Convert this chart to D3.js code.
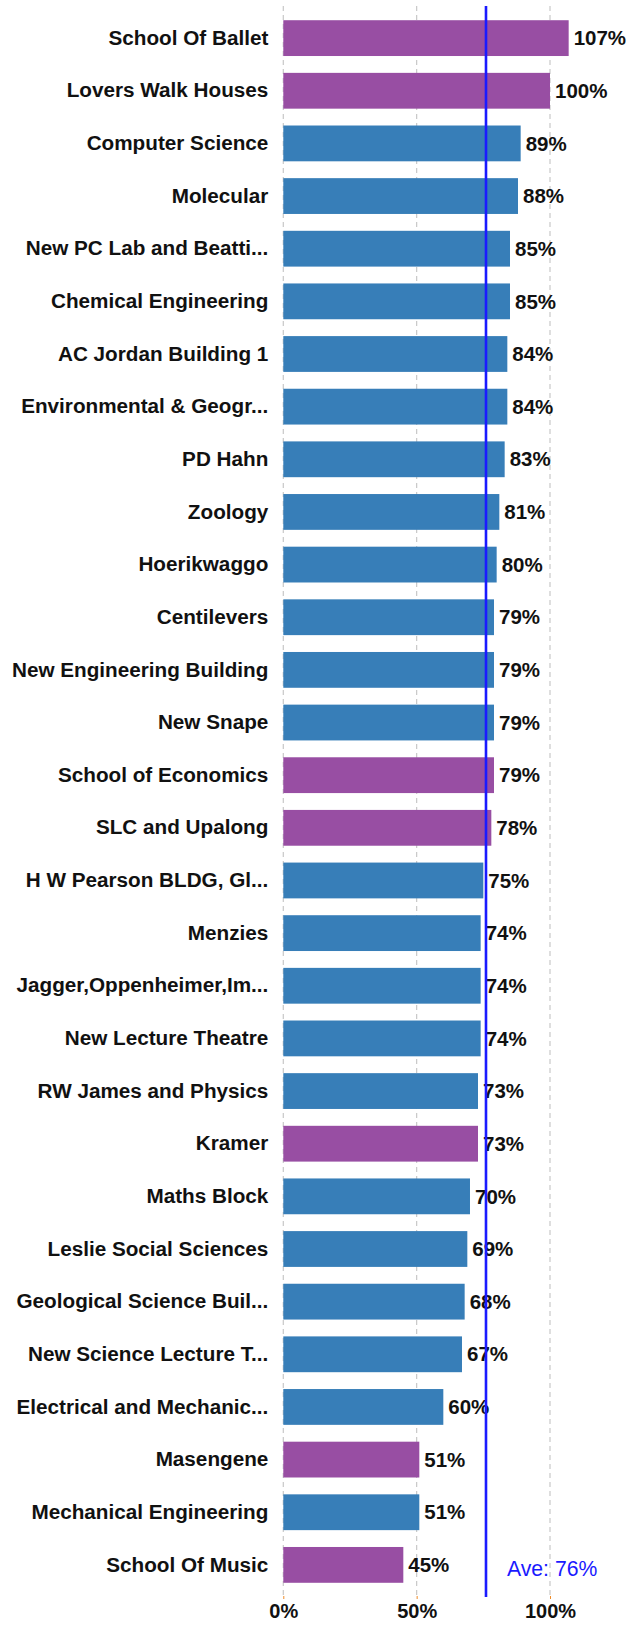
<!DOCTYPE html>
<html>
<head>
<meta charset="utf-8">
<script src="https://cdn.jsdelivr.net/npm/d3@7"></script>
<style>
  html, body { margin: 0; padding: 0; background: #fff; }
  svg { display: block; }
  text { font-family: "Liberation Sans", Arial, Helvetica, sans-serif; }
</style>
</head>
<body>
<script>
const categories = [
  "School Of Ballet", "Lovers Walk Houses", "Computer Science", "Molecular",
  "New PC Lab and Beatti...", "Chemical Engineering", "AC Jordan Building 1",
  "Environmental & Geogr...", "PD Hahn", "Zoology", "Hoerikwaggo", "Centilevers",
  "New Engineering Building", "New Snape", "School of Economics", "SLC and Upalong",
  "H W Pearson BLDG, Gl...", "Menzies", "Jagger,Oppenheimer,Im...", "New Lecture Theatre",
  "RW James and Physics", "Kramer", "Maths Block", "Leslie Social Sciences",
  "Geological Science Buil...", "New Science Lecture T...", "Electrical and Mechanic...",
  "Masengene", "Mechanical Engineering", "School Of Music"
];
const values = [
  1.07, 1.00, 0.89, 0.88, 0.85, 0.85, 0.84, 0.84, 0.83, 0.81, 0.80, 0.79,
  0.79, 0.79, 0.79, 0.78, 0.75, 0.74, 0.74, 0.74, 0.73, 0.73, 0.70, 0.69,
  0.68, 0.67, 0.60, 0.51, 0.51, 0.45
];
const groups = [
  "res", "res", "acad", "acad", "acad", "acad", "acad", "acad", "acad", "acad", "acad", "acad",
  "acad", "acad", "res", "res", "acad", "acad", "acad", "acad", "acad", "res", "acad", "acad",
  "acad", "acad", "acad", "res", "acad", "res"
];
const average = 0.76;
const averageLabel = "Ave: 76%";
const tickValues = [0, 0.5, 1];

const W = 640, H = 1625;
const plotLeft = 283.3, plotTop = 6, plotBottom = 1597;

const svg = d3.select("body").append("svg").attr("width", W).attr("height", H);

const x = d3.scaleLinear().domain([0, 1]).range([plotLeft, 550]);
const y = d3.scaleBand().domain(categories).range([plotTop, plotBottom])
  .paddingInner(0.32).paddingOuter(0.27);
const color = d3.scaleOrdinal().domain(["acad", "res"]).range(["#377eb8", "#984ea3"]);

// gridlines
svg.append("g").selectAll("line").data(tickValues).join("line")
  .attr("x1", d => x(d)).attr("x2", d => x(d))
  .attr("y1", plotTop).attr("y2", plotBottom)
  .attr("stroke", "#c8c8c8").attr("stroke-width", 1.2)
  .attr("stroke-dasharray", "5,4");

// x axis
const xAxis = d3.axisBottom(x).tickValues(tickValues).tickFormat(d3.format(".0%"))
  .tickSize(3).tickPadding(5);
const gx = svg.append("g").attr("transform", `translate(0,${plotBottom - 1})`).call(xAxis);
gx.select(".domain").remove();
gx.selectAll(".tick line").attr("stroke", "#f08c28");
gx.selectAll(".tick text")
  .attr("fill", "#111").attr("font-size", 20).attr("font-weight", "bold")
  .attr("font-family", "'Liberation Sans', Arial, sans-serif");

// bars
svg.append("g").selectAll("rect").data(categories).join("rect")
  .attr("x", x(0))
  .attr("y", d => y(d))
  .attr("width", (d, i) => x(values[i]) - x(0))
  .attr("height", y.bandwidth())
  .attr("fill", (d, i) => color(groups[i]));

// category labels
const yAxis = d3.axisLeft(y).tickSize(0).tickPadding(15);
const gy = svg.append("g").attr("transform", `translate(${plotLeft},0)`).call(yAxis);
gy.select(".domain").remove();
gy.selectAll(".tick text")
  .attr("fill", "#111").attr("font-size", 20.7).attr("font-weight", "bold")
  .attr("font-family", "'Liberation Sans', Arial, sans-serif");

// value labels
svg.append("g").selectAll("text").data(categories).join("text")
  .attr("x", (d, i) => x(values[i]) + 5)
  .attr("y", d => y(d) + y.bandwidth() / 2)
  .attr("dy", "0.35em")
  .attr("fill", "#111").attr("font-size", 20.5).attr("font-weight", "bold")
  .text((d, i) => d3.format(".0%")(values[i]));

// average line
svg.append("line")
  .attr("x1", x(average)).attr("x2", x(average))
  .attr("y1", plotTop).attr("y2", plotBottom)
  .attr("stroke", "#1a1aff").attr("stroke-width", 2.6);

svg.append("text")
  .attr("x", x(average) + 21).attr("y", 1575.5)
  .attr("fill", "#1a1aff").attr("font-size", 21.2)
  .text(averageLabel);
</script>
</body>
</html>
